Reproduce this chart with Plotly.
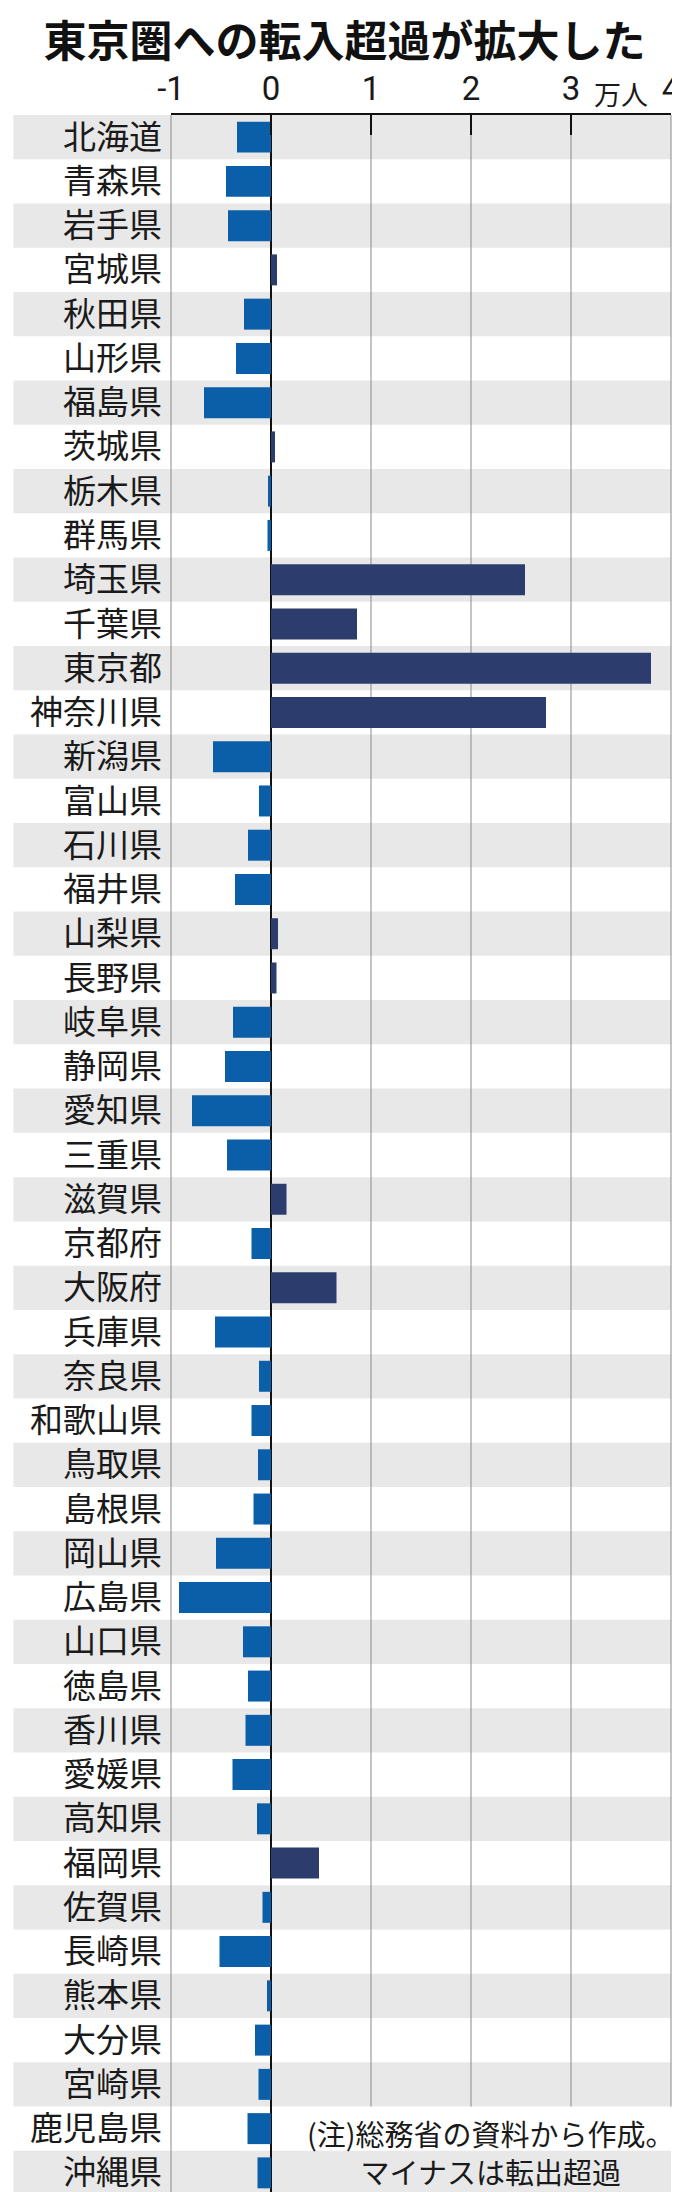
import plotly.graph_objects as go

prefectures = [
    "北海道", "青森県", "岩手県", "宮城県", "秋田県", "山形県", "福島県",
    "茨城県", "栃木県", "群馬県", "埼玉県", "千葉県", "東京都", "神奈川県",
    "新潟県", "富山県", "石川県", "福井県", "山梨県", "長野県", "岐阜県",
    "静岡県", "愛知県", "三重県", "滋賀県", "京都府", "大阪府", "兵庫県",
    "奈良県", "和歌山県", "鳥取県", "島根県", "岡山県", "広島県", "山口県",
    "徳島県", "香川県", "愛媛県", "高知県", "福岡県", "佐賀県", "長崎県",
    "熊本県", "大分県", "宮崎県", "鹿児島県", "沖縄県",
]
# net migration, 万人
net_in = [
    -0.34, -0.45, -0.43, 0.06, -0.27, -0.35, -0.67,
    0.04, -0.03, -0.035, 2.54, 0.86, 3.80, 2.75,
    -0.58, -0.12, -0.23, -0.36, 0.07, 0.055, -0.38,
    -0.46, -0.79, -0.44, 0.155, -0.195, 0.655, -0.56,
    -0.12, -0.195, -0.13, -0.175, -0.55, -0.92, -0.28,
    -0.23, -0.255, -0.385, -0.14, 0.48, -0.085, -0.515,
    -0.04, -0.16, -0.125, -0.235, -0.135,
]
tick_vals = [-1, 0, 1, 2, 3, 4]
tick_text = ["-1", "0", "1", "2", "3", "4"]
grid_vals = [1, 2, 3]

title_text = "東京圏への転入超過が拡大した"
unit_text = "万人"
note_text = "(注)総務省の資料から作成。<br>マイナスは転出超過"

NEG_COLOR = "#0b5fa8"
POS_COLOR = "#2c3c6c"
BAND_COLOR = "#e8e8e8"
JP_FONT = "Noto Sans CJK JP"

n = len(prefectures)
bar_colors = [POS_COLOR if v > 0 else NEG_COLOR for v in net_in]

fig = go.Figure(
    go.Bar(
        x=net_in,
        y=prefectures,
        orientation="h",
        width=0.7,
        marker=dict(color=bar_colors, line=dict(width=0)),
        hoverinfo="x+y",
    )
)

shapes = []
# alternating row bands, reaching into the label column
for i in range(0, n, 2):
    shapes.append(dict(
        type="rect", xref="paper", yref="y",
        x0=-0.315, x1=1.0, y0=i - 0.5, y1=i + 0.5,
        fillcolor=BAND_COLOR, line=dict(width=0), layer="below",
    ))

# gridlines stop above the note (last two rows)
grid_bottom = 2 / n
for g in grid_vals:
    shapes.append(dict(
        type="line", xref="x", yref="paper",
        x0=g, x1=g, y0=grid_bottom, y1=1,
        line=dict(color="#8a8a8a", width=1), layer="below",
    ))
shapes.append(dict(
    type="line", xref="paper", yref="paper",
    x0=1, x1=1, y0=grid_bottom, y1=1,
    line=dict(color="#8a8a8a", width=1), layer="below",
))
shapes.append(dict(
    type="line", xref="paper", yref="paper",
    x0=0, x1=0, y0=0, y1=1,
    line=dict(color="#8a8a8a", width=1), layer="below",
))

fig.update_layout(
    width=680,
    height=2192,
    margin=dict(l=163, r=17, t=107, b=5),
    paper_bgcolor="white",
    plot_bgcolor="white",
    showlegend=False,
    bargap=0.3,
    font=dict(family=JP_FONT, color="#1a1a1a"),
    title=dict(
        text=f"<b>{title_text}</b>",
        x=0.495, xref="container", xanchor="center",
        y=1 - 34 / 2192, yref="container", yanchor="middle",
        font=dict(family=JP_FONT, size=43, color="#111111"),
    ),
    xaxis=dict(
        range=[-1, 4],
        side="top",
        tickvals=tick_vals,
        ticktext=tick_text,
        tickfont=dict(family="Roboto", size=33, color="#1a1a1a"),
        ticks="inside",
        ticklen=20,
        tickwidth=1.5,
        tickcolor="#111111",
        showgrid=False,
        zeroline=True,
        zerolinecolor="#111111",
        zerolinewidth=2,
        showline=True,
        linecolor="#111111",
        linewidth=1.5,
        fixedrange=True,
    ),
    yaxis=dict(
        type="category",
        categoryorder="array",
        categoryarray=prefectures,
        range=[n - 0.5, -0.5],
        tickfont=dict(family=JP_FONT, size=33, color="#1a1a1a"),
        ticks="",
        showgrid=False,
        showline=False,
        ticklabelstandoff=8,
        fixedrange=True,
    ),
    shapes=shapes,
    annotations=[
        dict(
            text=unit_text, xref="x", yref="paper",
            x=3.5, y=1 + 22 / 2080, xanchor="center", yanchor="middle",
            showarrow=False,
            font=dict(family=JP_FONT, size=27, color="#1a1a1a"),
        ),
        dict(
            text=note_text, xref="x", yref="paper",
            x=2.2, y=1 - (2144 - 107) / 2080, xanchor="center", yanchor="middle",
            align="center", showarrow=False,
            font=dict(family=JP_FONT, size=29, color="#1a1a1a"),
        ),
    ],
)

fig.write_html("out.html")
